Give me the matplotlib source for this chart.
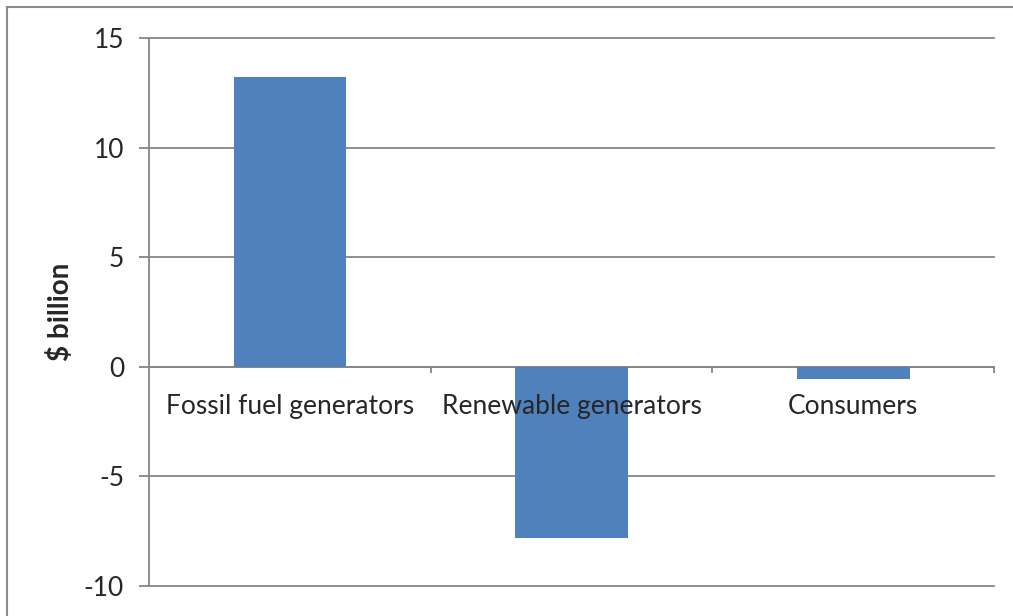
import matplotlib
matplotlib.use("Agg")
import matplotlib.pyplot as plt
from matplotlib.lines import Line2D

categories = ["Fossil fuel generators", "Renewable generators", "Consumers"]
values = [13.22, -7.79, -0.54]
yticks = [-10, -5, 0, 5, 10, 15]
ylabel = "$ billion"

plt.rcParams['font.family'] = ['Lato', 'DejaVu Sans']
W, H = 1013, 616
fig = plt.figure(figsize=(W/100, H/100), dpi=100)
ax = fig.add_axes([149/W, 1-586/H, (994-149)/W, (586-38)/H])

grid_c = '#868686'
txt_c = '#262626'
x = list(range(len(categories)))
ax.bar(x, values, width=0.40, color='#4F81BD', zorder=3)
ax.set_xlim(-0.5, 2.5)
ax.set_ylim(-10, 15)
ax.set_yticks(yticks)
ax.set_yticklabels([str(v) for v in yticks])
for v in yticks:
    ax.axhline(v, color=grid_c, lw=1.3, zorder=1, clip_on=False)

ax.set_xticks([0.5, 1.5, 2.5])
ax.set_xticklabels([])
for s in ['top', 'right']:
    ax.spines[s].set_visible(False)
ax.spines['bottom'].set_position(('data', 0))
ax.spines['bottom'].set_color(grid_c)
ax.spines['bottom'].set_linewidth(1.3)
ax.spines['left'].set_color(grid_c)
ax.spines['left'].set_linewidth(1.3)
ax.tick_params(axis='x', direction='out', length=4, width=1.3, color=grid_c)
ax.tick_params(axis='y', direction='out', length=7, width=1.3, color=grid_c,
               labelsize=19, labelcolor=txt_c, pad=11)

for i, c in enumerate(categories):
    ax.annotate(c, xy=(i, 0), xytext=(0, -40), textcoords='offset pixels',
                ha='center', va='center', fontsize=19, color=txt_c, zorder=5)

fig.text(60/W, 1-312/H, ylabel, rotation=90, ha='center', va='center',
         fontsize=20, fontweight='bold', color=txt_c)

# outer chart border (top and left visible)
fig.add_artist(Line2D([7/W, 1.0], [1-7/H, 1-7/H], color='#8c8c8c', lw=1.5,
                      transform=fig.transFigure))
fig.add_artist(Line2D([7/W, 7/W], [0, 1-7/H], color='#8c8c8c', lw=1.5,
                      transform=fig.transFigure))

fig.savefig('out.png', dpi=100, facecolor='white')
